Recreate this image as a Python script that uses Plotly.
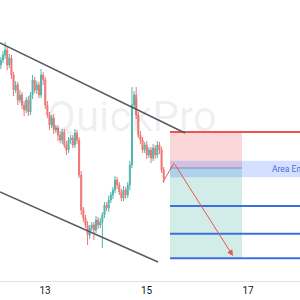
import plotly.graph_objects as go

# ---- data ----
start_day = 12.13
closes = [240,245,250,235,242,225,210,215,200,205,
          195,190,200,188,205,220,210,215,205,225,
          220,195,185,175,182,170,172,165,160,168,
          155,150,160,162,155,167,160,125,90,82,
          75,65,72,75,70,80,75,78,85,95,
          92,100,105,110,120,115,108,102,110,105,
          115,135,195,205,185,165,160,150,155,145,
          150,142,152,145,155,150,130,122]
first_open = 235
upper_wick = [3,4,8,3,4,3,3,4,3,5, 3,4,3,4,3,5,3,4,3,6, 3,3,4,3,3,4,3,3,4,3,
              3,4,3,3,3,4,3,3,4,3, 3,4,3,3,3,4,3,4,3,3, 3,4,3,3,4,3,3,3,4,3,
              3,4,18,4,8,3,4,3,3,4, 3,3,4,3,4,3,3,3]
lower_wick = [4,3,4,5,3,4,6,3,5,3, 4,6,3,4,3,4,3,4,3,3, 5,4,3,5,3,4,3,6,3,4,
              3,5,3,4,3,3,4,3,5,4, 3,10,4,3,10,3,4,3,26,3, 3,4,3,4,3,4,3,3,3,4,
              3,5,3,3,4,3,4,3,3,4, 3,5,3,4,3,4,3,5]

channel_upper_days = [12.113, 15.758]
channel_upper_prices = [257, 167]
channel_lower_days = [12.113, 15.226]
channel_lower_prices = [108, 38]

zone_start, zone_end, chart_end = 15.463, 16.881, 18.1
stop_level = 168
entry_level = 132
entry_band = [122.7, 139.3]
targets = [94, 66.3, 41.7]
path_days = [15.325, 15.541, 16.704]
path_prices = [118, 137, 44]

tick_days = [13, 15, 17]
tick_labels = ["13", "15", "17"]

# ---- build ----
n = len(closes)
times = [start_day + i / 24 for i in range(n)]
opens = [first_open] + closes[:-1]
highs = [max(o, c) + u for o, c, u in zip(opens, closes, upper_wick)]
lows = [min(o, c) - d for o, c, d in zip(opens, closes, lower_wick)]

fig = go.Figure()
fig.add_trace(go.Candlestick(
    x=times, open=opens, high=highs, low=lows, close=closes,
    increasing=dict(line=dict(color="#26a69a", width=1), fillcolor="#26a69a"),
    decreasing=dict(line=dict(color="#ef5350", width=1), fillcolor="#ef5350"),
    whiskerwidth=0, opacity=0.8, showlegend=False, hoverinfo="skip"))

shapes = []
# zones
shapes.append(dict(type="rect", xref="x", yref="y", x0=zone_start, x1=zone_end,
                   y0=entry_level, y1=stop_level, fillcolor="rgba(242,54,69,0.2)",
                   line=dict(width=0), layer="below"))
shapes.append(dict(type="rect", xref="x", yref="y", x0=zone_start, x1=zone_end,
                   y0=targets[-1], y1=entry_level, fillcolor="rgba(8,153,129,0.18)",
                   line=dict(width=0), layer="below"))
shapes.append(dict(type="rect", xref="x", yref="y", x0=zone_start, x1=chart_end,
                   y0=entry_band[0], y1=entry_band[1], fillcolor="rgba(41,98,255,0.2)",
                   line=dict(width=0), layer="below"))
shapes.append(dict(type="line", xref="x", yref="y", x0=zone_start, x1=zone_end,
                   y0=entry_level, y1=entry_level, line=dict(color="rgba(90,100,140,0.6)", width=1)))
# stop line
shapes.append(dict(type="line", xref="x", yref="y", x0=zone_start, x1=chart_end,
                   y0=stop_level, y1=stop_level, line=dict(color="#ef5350", width=2)))
for t in targets:
    shapes.append(dict(type="line", xref="x", yref="y", x0=zone_start, x1=chart_end,
                       y0=t, y1=t, line=dict(color="#3d6fe0", width=2)))
# channel
shapes.append(dict(type="line", xref="x", yref="y", x0=channel_upper_days[0], x1=channel_upper_days[1],
                   y0=channel_upper_prices[0], y1=channel_upper_prices[1],
                   line=dict(color="#555a66", width=1.5)))
shapes.append(dict(type="line", xref="x", yref="y", x0=channel_lower_days[0], x1=channel_lower_days[1],
                   y0=channel_lower_prices[0], y1=channel_lower_prices[1],
                   line=dict(color="#555a66", width=1.5)))
# projection path first leg
shapes.append(dict(type="line", xref="x", yref="y", x0=path_days[0], x1=path_days[1],
                   y0=path_prices[0], y1=path_prices[1], line=dict(color="#ef5350", width=1)))

annotations = [
    dict(x=path_days[2], y=path_prices[2], ax=path_days[1], ay=path_prices[1],
         xref="x", yref="y", axref="x", ayref="y", showarrow=True, text="",
         arrowhead=2, arrowsize=1.2, arrowwidth=1, arrowcolor="#ef5350"),
    dict(x=17.44, y=sum(entry_band) / 2, xref="x", yref="y", text="Area Entry",
         showarrow=False, xanchor="left", yanchor="middle",
         font=dict(family="Roboto", size=8.5, color="#4a6fd8")),
    dict(x=0.44, y=0.587, xref="paper", yref="paper", text="QuickPro", showarrow=False,
         font=dict(family="Roboto", size=42, color="rgba(0,0,0,0.065)")),
]

fig.update_layout(
    width=300, height=300, margin=dict(l=0, r=0, t=0, b=19),
    paper_bgcolor="white", plot_bgcolor="white",
    shapes=shapes, annotations=annotations, showlegend=False,
    xaxis=dict(range=[12.113, 18.024], tickvals=tick_days, ticktext=tick_labels,
               showgrid=False, zeroline=False, showline=True, linecolor="#e0e3eb",
               ticks="", rangeslider=dict(visible=False),
               tickfont=dict(family="Roboto", size=10, color="#131722")),
    yaxis=dict(range=[19, 300], visible=False),
)

fig.write_html("out.html")
